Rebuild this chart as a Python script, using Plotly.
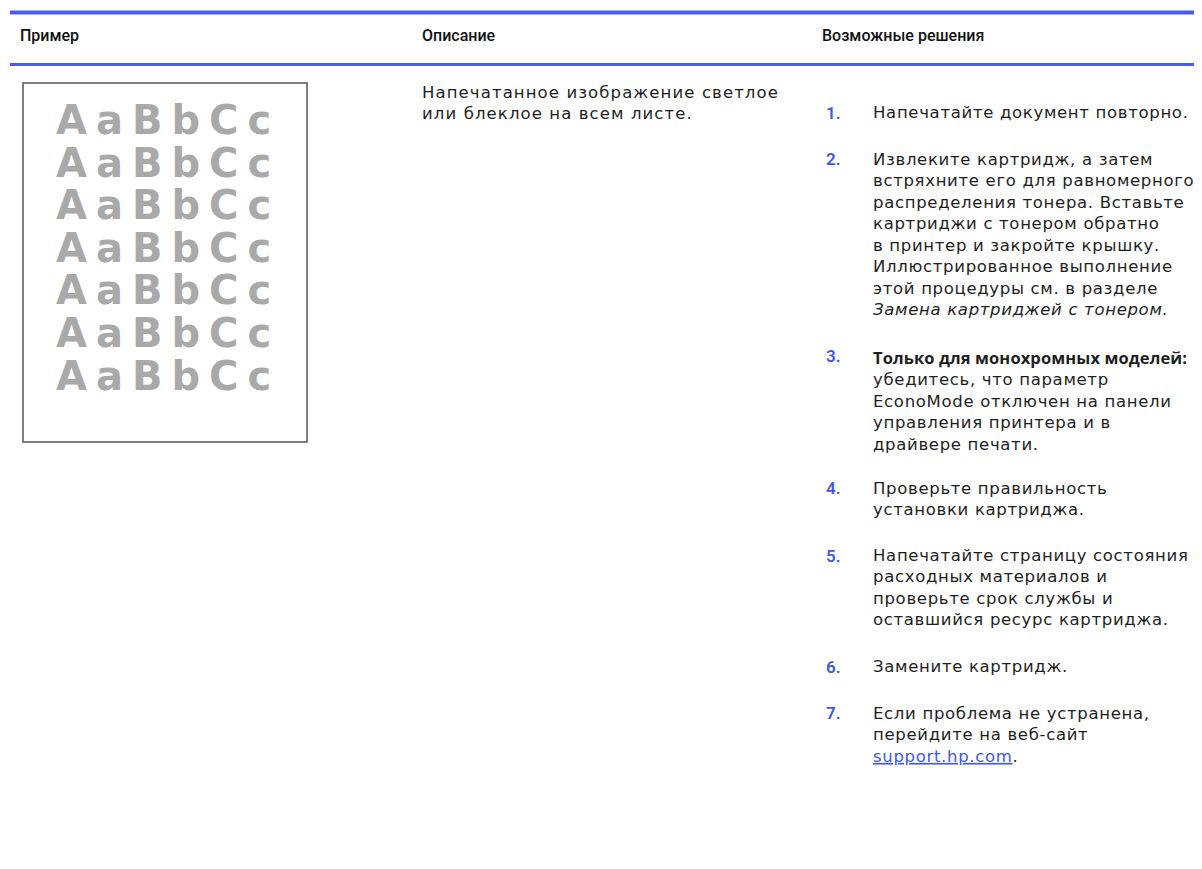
import plotly.graph_objects as go

# ---- content ----
headers = ["Пример", "Описание", "Возможные решения"]
header_x = [18, 420, 820]

description_lines = ["Напечатанное изображение светлое", "или блеклое на всем листе."]

sample_rows = ["AaBbCc"] * 7

step_numbers = ["1.", "2.", "3.", "4.", "5.", "6.", "7."]
step_lines = [
    ["Напечатайте документ повторно."],
    ["Извлеките картридж, а затем",
     "встряхните его для равномерного",
     "распределения тонера. Вставьте",
     "картриджи с тонером обратно",
     "в принтер и закройте крышку.",
     "Иллюстрированное выполнение",
     "этой процедуры см. в разделе",
     "<i>Замена картриджей с тонером.</i>"],
    ["<b><span style='font-family:Open Sans;letter-spacing:0.1px'>Только для монохромных моделей:</span></b>",
     "убедитесь, что параметр",
     "EconoMode отключен на панели",
     "управления принтера и в",
     "драйвере печати."],
    ["Проверьте правильность",
     "установки картриджа."],
    ["Напечатайте страницу состояния",
     "расходных материалов и",
     "проверьте срок службы и",
     "оставшийся ресурс картриджа."],
    ["Замените картридж."],
    ["Если проблема не устранена,",
     "перейдите на веб-сайт",
     "<a href='https://support.hp.com'><span style='color:#3f57e6'><u>support.hp.com</u></span></a>."],
]

# ---- style / layout constants ----
W, H = 1202, 869
OFF = 8  # page body margin
BLUE = "#4a5cef"
NUM_BLUE = "#3f57e6"
TEXT = "#1e1e1e"
BODY_FONT = "DejaVu Sans"
BODY_SIZE = 16.5          # plotly line height = 1.3 * size = 21.45 px
BODY_SPACING = "0.68px"
LINE_STEP = 1.3 * BODY_SIZE
STEP_GAP = 25
FIRST_STEP_Y = 113
NUM_X = 824
STEP_TEXT_X = 871
TOP_SHIFT = 0.65 * BODY_SIZE + 1


def spaced(t, ls=BODY_SPACING):
    if "letter-spacing" in t:
        return t
    return f"<span style='letter-spacing:{ls}'>{t}</span>"


def block(lines, ls=BODY_SPACING):
    return "<br>".join(spaced(l, ls) for l in lines)


fig = go.Figure()
fig.add_trace(go.Scatter(x=[OFF + 1], y=[OFF + 1], mode="markers", marker=dict(opacity=0),
                         hoverinfo="skip", showlegend=False))

shapes = []
annotations = []

# header rules
shapes.append(dict(type="line", x0=10, x1=W + OFF, y0=12.5, y1=12.5, line=dict(color=BLUE, width=4)))
shapes.append(dict(type="line", x0=10, x1=W + OFF, y0=64.5, y1=64.5, line=dict(color=BLUE, width=3)))

for h, hx in zip(headers, header_x):
    annotations.append(dict(x=hx, y=35, text=h, showarrow=False, xanchor="left", yanchor="middle",
                            font=dict(family="Roboto", size=16, color="#111111", weight=500)))

# description
annotations.append(dict(x=420, y=93 - TOP_SHIFT, text=block(description_lines, "1.1px"), showarrow=False,
                        xanchor="left", yanchor="top", align="left",
                        font=dict(family=BODY_FONT, size=BODY_SIZE, color=TEXT)))

# sample box
shapes.append(dict(type="rect", x0=23, x1=307, y0=83, y1=442, line=dict(color="#555555", width=1.5)))
for i, row in enumerate(sample_rows):
    annotations.append(dict(x=168, y=120 + i * 42.6, text=spaced(row, "9px"), showarrow=False,
                            xanchor="center", yanchor="middle",
                            font=dict(family="DejaVu Sans", size=40, color="#a9a9a9", weight="bold")))

# steps
y = FIRST_STEP_Y
for num, lines in zip(step_numbers, step_lines):
    annotations.append(dict(x=NUM_X, y=y, text=num, showarrow=False, xanchor="left", yanchor="middle",
                            font=dict(family="Roboto", size=17, color=NUM_BLUE, weight=600)))
    annotations.append(dict(x=STEP_TEXT_X, y=y - TOP_SHIFT, text=block(lines), showarrow=False,
                            xanchor="left", yanchor="top", align="left",
                            font=dict(family=BODY_FONT, size=BODY_SIZE, color=TEXT)))
    y += len(lines) * LINE_STEP + STEP_GAP

fig.update_layout(
    width=W, height=H, margin=dict(l=0, r=0, t=0, b=0),
    paper_bgcolor="white", plot_bgcolor="white",
    xaxis=dict(range=[OFF, W + OFF], visible=False, fixedrange=True),
    yaxis=dict(range=[H + OFF, OFF], visible=False, fixedrange=True),
    shapes=shapes, annotations=annotations, showlegend=False,
)
fig.write_html("out.html")
